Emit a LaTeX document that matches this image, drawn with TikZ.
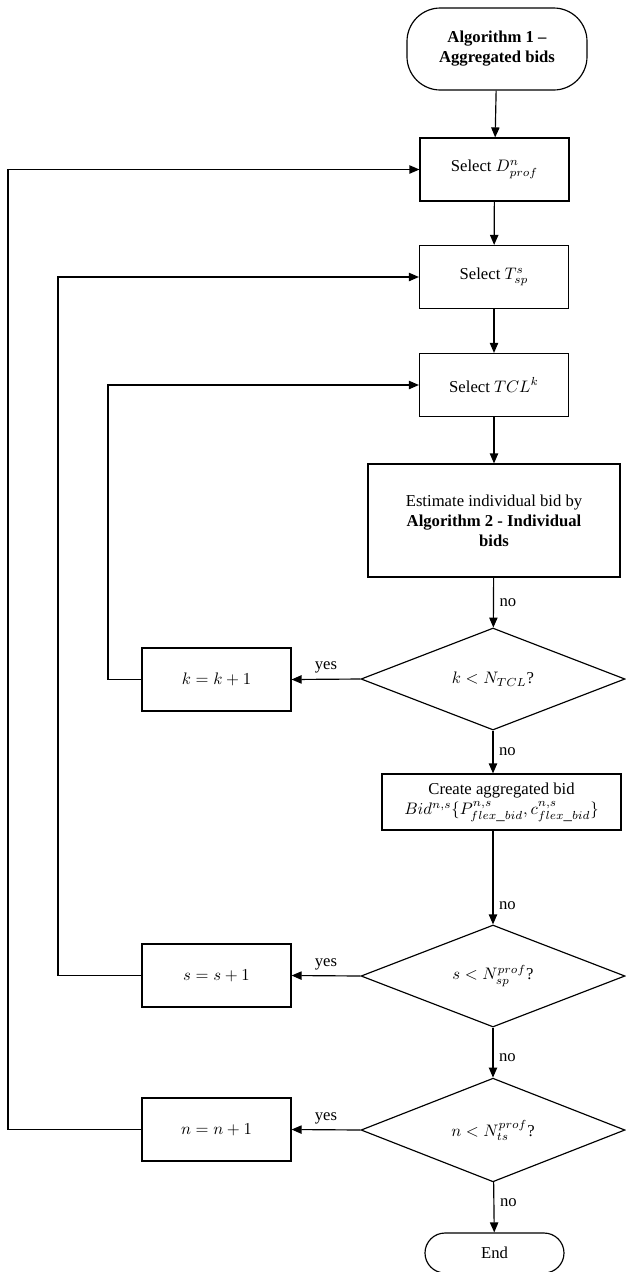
\documentclass[tikz,border=0pt]{standalone}
\usepackage{fontspec}
\setmainfont{Liberation Serif}
\usetikzlibrary{shapes.geometric,arrows.meta}

\begin{document}
\begin{tikzpicture}[x=0.6pt, y=-0.6pt, line width=0.7pt, >={Triangle[length=6pt,width=5pt]}, every node/.style={font=\fontsize{10}{12}\selectfont}]
  \tikzstyle{block}=[rectangle, draw, minimum width=89.4pt, minimum height=37.8pt, align=center, inner sep=2pt]
  \tikzstyle{term}=[rectangle, draw, align=center, inner sep=2pt]
  \tikzstyle{test}=[diamond, draw, minimum width=158.4pt, minimum height=61.2pt, inner sep=0pt]
  \useasboundingbox (0,0) rectangle (626,1272);
  % main column
  \node[term, rounded corners=20pt, minimum width=108pt, minimum height=49.2pt, font=\fontsize{10}{12}\selectfont\bfseries] (start) at (497,49) {Algorithm 1 --\\Aggregated bids};
  \node[block] (selD) at (494.5,169.5) {Select $D^{n}_{prof}$};
  \node[block] (selT) at (494,277) {Select $T^{s}_{sp}$};
  \node[block] (selTCL) at (494,385) {Select $TCL^{k}$};
  \node[block, minimum width=151.2pt, minimum height=67.8pt] (est) at (494,520.5) {Estimate individual bid by\\\textbf{Algorithm 2 - Individual}\\\textbf{bids}};
  \node[test] (chkK) at (493,679) {$k < N_{TCL}$?};
  \node[block, minimum width=143.4pt, minimum height=33.6pt] (create) at (501.5,802) {Create aggregated bid\\$Bid^{n,s}\{P^{n,s}_{flex\_bid}, c^{n,s}_{flex\_bid}\}$};
  \node[test] (chkS) at (493,976) {$s < N^{prof}_{sp}$?};
  \node[test] (chkN) at (493,1130) {$n < N^{prof}_{ts}$?};
  \node[term, rounded corners=12pt, minimum width=83.4pt, minimum height=24pt] (stop) at (494.5,1253) {End};
  % counters
  \node[block] (incK) at (216.5,679.5) {$k = k + 1$};
  \node[block] (incS) at (216.5,975.5) {$s = s + 1$};
  \node[block] (incN) at (216.5,1129.5) {$n = n + 1$};
  \coordinate (loopK) at (108,679.5);
  \coordinate (loopS) at (58,975.5);
  \coordinate (loopN) at (8,1129.5);
  % flow
  \draw[->] (start) -- (selD);
  \draw[->] (selD) -- (selT);
  \draw[->] (selT) -- (selTCL);
  \draw[->] (selTCL) -- (est);
  \draw[->] (est) -- node[right] {no} (chkK);
  \draw[->] (chkK.south) -- node[right] {no} (chkK.south |- create.north);
  \draw[->] (chkS.north |- create.south) -- node[right, pos=0.8] {no} (chkS.north);
  \draw[->] (chkS) -- node[right, pos=0.6] {no} (chkN);
  \draw[->] (chkN) -- node[right, pos=0.4] {no} (stop);
  \draw[->] (chkK.west) -- node[above] {yes} (incK.east);
  \draw[->] (chkS.west) -- node[above] {yes} (incS.east);
  \draw[->] (chkN.west) -- node[above] {yes} (incN.east);
  \draw[->] (incK.west) -- (loopK) |- (selTCL.west);
  \draw[->] (incS.west) -- (loopS) |- (selT.west);
  \draw[->] (incN.west) -- (loopN) |- (selD.west);
\end{tikzpicture}
\end{document}
